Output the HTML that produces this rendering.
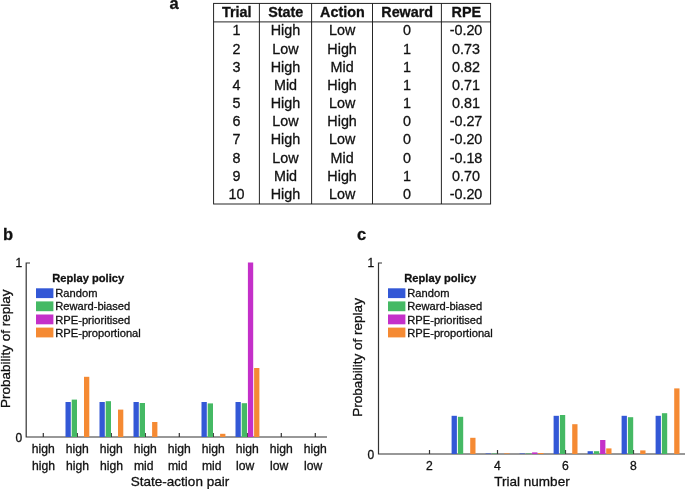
<!DOCTYPE html>
<html lang="en"><head><meta charset="utf-8"><title>Figure</title>
<style>html,body{margin:0;padding:0;background:#fff;}svg{display:block;}text{font-family:"Liberation Sans", Arial, Helvetica, sans-serif;fill:#111;stroke:#111;stroke-width:0.3px;}</style></head><body>
<svg width="685" height="489" viewBox="0 0 685 489">
<rect x="0" y="0" width="685" height="489" fill="#ffffff"/>
<text x="169.4" y="8.6" font-size="16.5" font-weight="bold">a</text>
<text x="3.0" y="239.6" font-size="16.5" font-weight="bold">b</text>
<text x="357" y="239.7" font-size="16.5" font-weight="bold">c</text>
<g stroke="#1a1a1a" stroke-width="0.95" fill="none">
<rect x="213.6" y="3.4" width="277.0" height="200.6"/>
<line x1="213.6" y1="21.9" x2="490.6" y2="21.9"/>
<line x1="259.4" y1="3.4" x2="259.4" y2="204.0"/>
<line x1="311.6" y1="3.4" x2="311.6" y2="204.0"/>
<line x1="372.5" y1="3.4" x2="372.5" y2="204.0"/>
<line x1="441.4" y1="3.4" x2="441.4" y2="204.0"/>
</g>
<g font-size="14.35" text-anchor="middle">
<text x="236.8" y="16.5" font-weight="bold">Trial</text>
<text x="285.8" y="16.5" font-weight="bold">State</text>
<text x="342.4" y="16.5" font-weight="bold">Action</text>
<text x="407.2" y="16.5" font-weight="bold">Reward</text>
<text x="466.3" y="16.5" font-weight="bold">RPE</text>
<text x="236.5" y="35.3">1</text>
<text x="285.5" y="35.3">High</text>
<text x="342.1" y="35.3">Low</text>
<text x="406.9" y="35.3">0</text>
<text x="466.0" y="35.3">-0.20</text>
<text x="236.5" y="53.5">2</text>
<text x="285.5" y="53.5">Low</text>
<text x="342.1" y="53.5">High</text>
<text x="406.9" y="53.5">1</text>
<text x="466.0" y="53.5">0.73</text>
<text x="236.5" y="71.7">3</text>
<text x="285.5" y="71.7">High</text>
<text x="342.1" y="71.7">Mid</text>
<text x="406.9" y="71.7">1</text>
<text x="466.0" y="71.7">0.82</text>
<text x="236.5" y="89.8">4</text>
<text x="285.5" y="89.8">Mid</text>
<text x="342.1" y="89.8">High</text>
<text x="406.9" y="89.8">1</text>
<text x="466.0" y="89.8">0.71</text>
<text x="236.5" y="108.0">5</text>
<text x="285.5" y="108.0">High</text>
<text x="342.1" y="108.0">Low</text>
<text x="406.9" y="108.0">1</text>
<text x="466.0" y="108.0">0.81</text>
<text x="236.5" y="126.2">6</text>
<text x="285.5" y="126.2">Low</text>
<text x="342.1" y="126.2">High</text>
<text x="406.9" y="126.2">0</text>
<text x="466.0" y="126.2">-0.27</text>
<text x="236.5" y="144.4">7</text>
<text x="285.5" y="144.4">High</text>
<text x="342.1" y="144.4">Low</text>
<text x="406.9" y="144.4">0</text>
<text x="466.0" y="144.4">-0.20</text>
<text x="236.5" y="162.6">8</text>
<text x="285.5" y="162.6">Low</text>
<text x="342.1" y="162.6">Mid</text>
<text x="406.9" y="162.6">0</text>
<text x="466.0" y="162.6">-0.18</text>
<text x="236.5" y="180.7">9</text>
<text x="285.5" y="180.7">Mid</text>
<text x="342.1" y="180.7">High</text>
<text x="406.9" y="180.7">1</text>
<text x="466.0" y="180.7">0.70</text>
<text x="236.5" y="198.9">10</text>
<text x="285.5" y="198.9">High</text>
<text x="342.1" y="198.9">Low</text>
<text x="406.9" y="198.9">0</text>
<text x="466.0" y="198.9">-0.20</text>
</g>
<text x="52.3" y="282" font-size="11.15" font-weight="bold">Replay policy</text>
<rect x="36.0" y="288.3" width="17.4" height="9.8" fill="#3358d6"/>
<text x="55.3" y="297.1" font-size="11.15">Random</text>
<rect x="36.0" y="301.4" width="17.4" height="9.8" fill="#45b964"/>
<text x="55.3" y="310.4" font-size="11.15">Reward-biased</text>
<rect x="36.0" y="314.5" width="17.4" height="9.8" fill="#c430c9"/>
<text x="55.3" y="323.6" font-size="11.15">RPE-prioritised</text>
<rect x="36.0" y="327.6" width="17.4" height="9.8" fill="#f58a33"/>
<text x="55.3" y="336.9" font-size="11.15">RPE-proportional</text>
<g stroke="#333333" stroke-width="1.2" fill="none">
<path d="M30,263.0 H26.2 V437.0 H327"/>
<line x1="43.3" y1="437.0" x2="43.3" y2="433.0"/>
<line x1="77.3" y1="437.0" x2="77.3" y2="433.0"/>
<line x1="111.3" y1="437.0" x2="111.3" y2="433.0"/>
<line x1="145.3" y1="437.0" x2="145.3" y2="433.0"/>
<line x1="179.3" y1="437.0" x2="179.3" y2="433.0"/>
<line x1="213.3" y1="437.0" x2="213.3" y2="433.0"/>
<line x1="247.3" y1="437.0" x2="247.3" y2="433.0"/>
<line x1="281.3" y1="437.0" x2="281.3" y2="433.0"/>
<line x1="315.3" y1="437.0" x2="315.3" y2="433.0"/>
</g>
<rect x="65.5" y="402.0" width="5.3" height="35.0" fill="#3358d6"/>
<rect x="71.7" y="399.6" width="5.3" height="37.4" fill="#45b964"/>
<rect x="84.0" y="376.8" width="5.3" height="60.2" fill="#f58a33"/>
<rect x="99.5" y="402.0" width="5.3" height="35.0" fill="#3358d6"/>
<rect x="105.7" y="401.2" width="5.3" height="35.8" fill="#45b964"/>
<rect x="118.0" y="409.6" width="5.3" height="27.4" fill="#f58a33"/>
<rect x="133.5" y="402.0" width="5.3" height="35.0" fill="#3358d6"/>
<rect x="139.7" y="403.0" width="5.3" height="34.0" fill="#45b964"/>
<rect x="152.1" y="422.0" width="5.3" height="15.0" fill="#f58a33"/>
<rect x="201.5" y="402.0" width="5.3" height="35.0" fill="#3358d6"/>
<rect x="207.7" y="403.4" width="5.3" height="33.6" fill="#45b964"/>
<rect x="220.1" y="433.8" width="5.3" height="3.2" fill="#f58a33"/>
<rect x="235.5" y="402.0" width="5.3" height="35.0" fill="#3358d6"/>
<rect x="241.7" y="403.2" width="5.3" height="33.8" fill="#45b964"/>
<rect x="247.9" y="262.5" width="5.3" height="174.5" fill="#c430c9"/>
<rect x="254.1" y="368.0" width="5.3" height="69.0" fill="#f58a33"/>
<text x="22.2" y="267.2" font-size="12" text-anchor="end">1</text>
<text x="22.2" y="441.7" font-size="12" text-anchor="end">0</text>
<text transform="translate(10.2,348.8) rotate(-90)" font-size="13.5" text-anchor="middle">Probability of replay</text>
<g font-size="12.15">
<text x="43.3" y="452.8" text-anchor="middle">high</text>
<text x="32.0" y="469.9">high</text>
<text x="77.3" y="452.8" text-anchor="middle">high</text>
<text x="66.0" y="469.9">high</text>
<text x="111.3" y="452.8" text-anchor="middle">high</text>
<text x="100.0" y="469.9">high</text>
<text x="145.3" y="452.8" text-anchor="middle">high</text>
<text x="134.0" y="469.9">mid</text>
<text x="179.3" y="452.8" text-anchor="middle">high</text>
<text x="168.0" y="469.9">mid</text>
<text x="213.3" y="452.8" text-anchor="middle">high</text>
<text x="202.0" y="469.9">mid</text>
<text x="247.3" y="452.8" text-anchor="middle">high</text>
<text x="236.0" y="469.9">low</text>
<text x="281.3" y="452.8" text-anchor="middle">high</text>
<text x="270.0" y="469.9">low</text>
<text x="315.3" y="452.8" text-anchor="middle">high</text>
<text x="304.0" y="469.9">low</text>
</g>
<text x="180" y="485.8" font-size="13.5" text-anchor="middle">State-action pair</text>
<text x="404.3" y="282" font-size="11.15" font-weight="bold">Replay policy</text>
<rect x="388.0" y="288.3" width="17.4" height="9.8" fill="#3358d6"/>
<text x="407.3" y="297.1" font-size="11.15">Random</text>
<rect x="388.0" y="301.4" width="17.4" height="9.8" fill="#45b964"/>
<text x="407.3" y="310.4" font-size="11.15">Reward-biased</text>
<rect x="388.0" y="314.5" width="17.4" height="9.8" fill="#c430c9"/>
<text x="407.3" y="323.6" font-size="11.15">RPE-prioritised</text>
<rect x="388.0" y="327.6" width="17.4" height="9.8" fill="#f58a33"/>
<text x="407.3" y="336.9" font-size="11.15">RPE-proportional</text>
<g stroke="#333333" stroke-width="1.2" fill="none">
<path d="M382,263.0 H378.5 V454.0 H686"/>
<line x1="429.5" y1="454.0" x2="429.5" y2="450.0"/>
<line x1="497.5" y1="454.0" x2="497.5" y2="450.0"/>
<line x1="565.5" y1="454.0" x2="565.5" y2="450.0"/>
<line x1="633.5" y1="454.0" x2="633.5" y2="450.0"/>
</g>
<rect x="451.6" y="415.8" width="5.3" height="38.2" fill="#3358d6"/>
<rect x="457.9" y="416.8" width="5.3" height="37.2" fill="#45b964"/>
<rect x="470.2" y="437.8" width="5.3" height="16.2" fill="#f58a33"/>
<rect x="485.6" y="453.5" width="5.3" height="0.5" fill="#3358d6"/>
<rect x="491.9" y="453.5" width="5.3" height="0.5" fill="#45b964"/>
<rect x="504.2" y="453.4" width="5.3" height="0.6" fill="#f58a33"/>
<rect x="519.6" y="453.5" width="5.3" height="0.5" fill="#3358d6"/>
<rect x="525.9" y="453.5" width="5.3" height="0.5" fill="#45b964"/>
<rect x="532.1" y="452.4" width="5.3" height="1.6" fill="#c430c9"/>
<rect x="538.2" y="453.0" width="5.3" height="1.0" fill="#f58a33"/>
<rect x="553.6" y="415.8" width="5.3" height="38.2" fill="#3358d6"/>
<rect x="559.9" y="415.0" width="5.3" height="39.0" fill="#45b964"/>
<rect x="572.2" y="424.2" width="5.3" height="29.8" fill="#f58a33"/>
<rect x="587.6" y="451.2" width="5.3" height="2.8" fill="#3358d6"/>
<rect x="593.9" y="451.2" width="5.3" height="2.8" fill="#45b964"/>
<rect x="600.1" y="440.0" width="5.3" height="14.0" fill="#c430c9"/>
<rect x="606.2" y="448.4" width="5.3" height="5.6" fill="#f58a33"/>
<rect x="621.6" y="415.8" width="5.3" height="38.2" fill="#3358d6"/>
<rect x="627.9" y="417.2" width="5.3" height="36.8" fill="#45b964"/>
<rect x="640.2" y="450.4" width="5.3" height="3.6" fill="#f58a33"/>
<rect x="655.6" y="415.8" width="5.3" height="38.2" fill="#3358d6"/>
<rect x="661.9" y="413.2" width="5.3" height="40.8" fill="#45b964"/>
<rect x="674.2" y="388.4" width="5.3" height="65.6" fill="#f58a33"/>
<text x="374.2" y="267.2" font-size="12" text-anchor="end">1</text>
<text x="374.2" y="458.6" font-size="12" text-anchor="end">0</text>
<text transform="translate(361.7,357.4) rotate(-90)" font-size="13.5" text-anchor="middle">Probability of replay</text>
<g font-size="12.15" text-anchor="middle">
<text x="429.5" y="469.8">2</text>
<text x="497.5" y="469.8">4</text>
<text x="565.5" y="469.8">6</text>
<text x="633.5" y="469.8">8</text>
</g>
<text x="532" y="486.0" font-size="13.5" text-anchor="middle">Trial number</text>
</svg></body></html>
